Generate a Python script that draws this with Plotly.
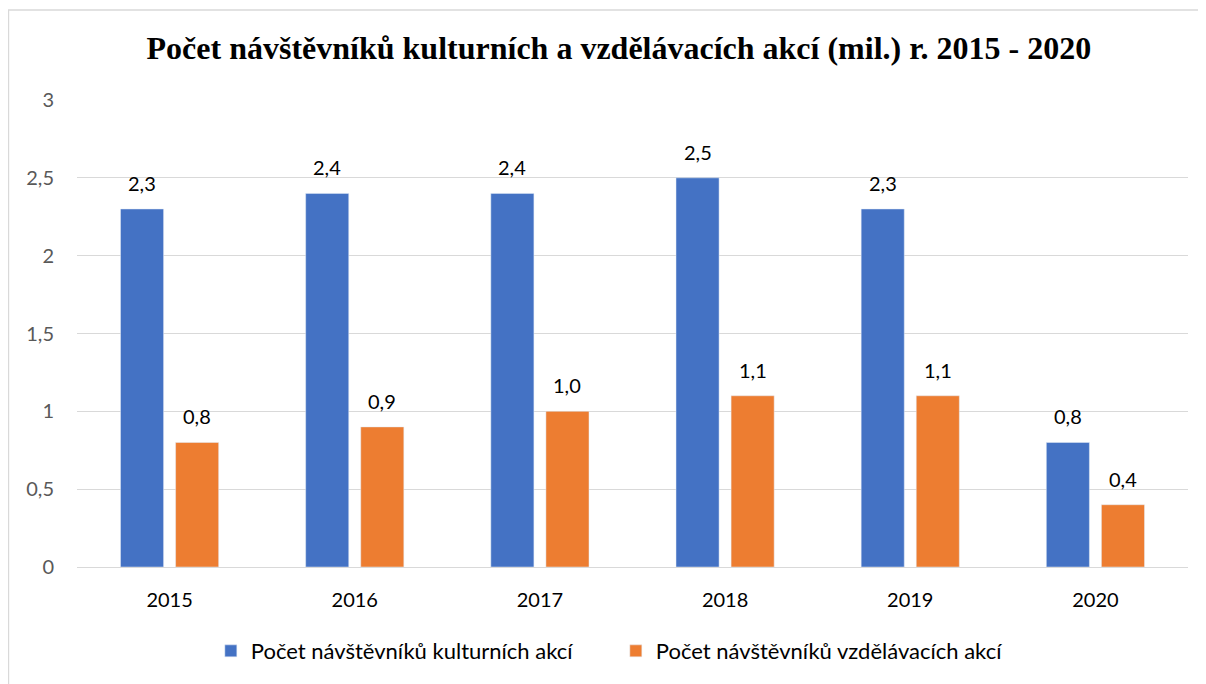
import plotly.graph_objects as go

years = ["2015", "2016", "2017", "2018", "2019", "2020"]
kulturni = [2.3, 2.4, 2.4, 2.5, 2.3, 0.8]
vzdelavaci = [0.8, 0.9, 1.0, 1.1, 1.1, 0.4]
name_k = "Počet návštěvníků kulturních akcí"
name_v = "Počet návštěvníků vzdělávacích akcí"
title = "Počet návštěvníků kulturních a vzdělávacích akcí (mil.) r. 2015 - 2020"

FONT = "Lato"
fig = go.Figure()
fig.add_bar(x=years, y=kulturni, name=name_k, marker_color="#4472C4")
fig.add_bar(x=years, y=vzdelavaci, name=name_v, marker_color="#ED7D31")

for vals, shift in ((kulturni, -27.5), (vzdelavaci, 27.5)):
    for i, v in enumerate(vals):
        fig.add_annotation(x=i, y=v, xref="x", yref="y", text=f"{v:.1f}".replace(".", ","),
                           showarrow=False, xshift=shift, yshift=12, yanchor="bottom",
                           font=dict(family=FONT, size=20, color="#000000"))

fig.add_shape(type="rect", xref="paper", yref="paper", x0=-0.0617, x1=1.0099, y0=-0.3, y1=1.1927,
              line=dict(color="#d9d9d9", width=1.5), fillcolor="rgba(0,0,0,0)", layer="below")

fig.update_layout(
    width=1206, height=684,
    margin=dict(l=69, r=26, t=92, b=125),
    paper_bgcolor="white", plot_bgcolor="white",
    separators=", ",
    barmode="group", bargap=0.405, bargroupgap=0.218,
    title=dict(text=f"<b>{title}</b>", x=0.5065, xanchor="center", y=1 - 40 / 684, yanchor="middle",
               font=dict(family="Liberation Serif", size=32, color="#000000")),
    legend=dict(orientation="h", x=0.485, xanchor="center", y=-0.18, yanchor="middle",
                font=dict(family=FONT, size=22, color="#000000"), itemwidth=30,
                entrywidth=360, entrywidthmode="pixels"),
    yaxis=dict(range=[0, 3], dtick=0.5, gridcolor="#d9d9d9", gridwidth=1, zeroline=False,
               showline=False, tickfont=dict(family=FONT, size=20, color="#595959"),
               ticklabelstandoff=22),
    xaxis=dict(type="category", range=[-0.5, 5.5], showline=True, linecolor="#d9d9d9", linewidth=1,
               showgrid=False, tickfont=dict(family=FONT, size=20, color="#000000"),
               ticklabelstandoff=15),
)
fig.write_html("out.html")
